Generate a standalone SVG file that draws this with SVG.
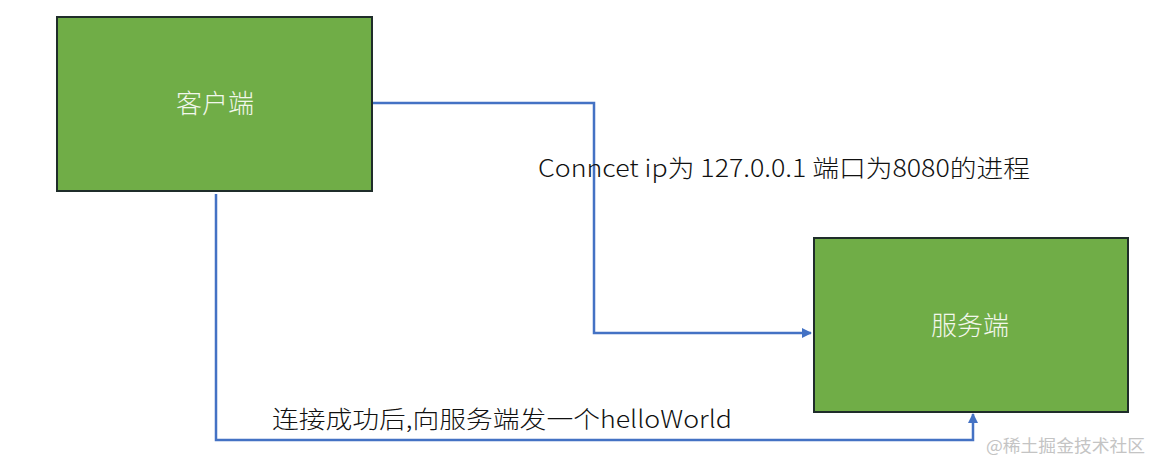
<svg xmlns="http://www.w3.org/2000/svg" width="1153" height="464" viewBox="0 0 1153 464">
<style>
.box{fill:#70AD47;stroke:#1F2D2A;stroke-width:2}
.nt{font-family:"Noto Sans CJK SC","Liberation Sans",sans-serif;font-size:26px;font-weight:300;fill:#F2F7EC;text-anchor:middle}
.lb{font-family:"Noto Sans CJK SC","Liberation Sans",sans-serif;font-size:24px;font-weight:300;fill:#111}
.cn{fill:none;stroke:#4472C4;stroke-width:2.5}
.wm{font-family:"Noto Sans CJK SC",sans-serif;font-size:17px;fill:#C4C4C4}
</style>
<defs>
<marker id="ah" viewBox="0 0 10 10" refX="9" refY="5" markerWidth="4" markerHeight="4" orient="auto" markerUnits="strokeWidth">
<path d="M0,0 L10,5 L0,10 z" fill="#4472C4"/>
</marker>
</defs>
<rect width="1153" height="464" fill="#fff"/>
<g id="connectors">
<polyline class="cn" points="373,103 594,103 594,333 811,333" marker-end="url(#ah)"/>
<polyline class="cn" points="216,194 216,440 973,440 973,414" marker-end="url(#ah)"/>
<text class="lb" x="538" y="177" textLength="492" lengthAdjust="spacingAndGlyphs">Conncet ip为 127.0.0.1 端口为8080的进程</text>
<text class="lb" x="272" y="428" textLength="460" lengthAdjust="spacingAndGlyphs">连接成功后,向服务端发一个helloWorld</text>
</g>
<g id="client">
<rect class="box" x="57" y="17" width="315" height="174"/>
<text class="nt" x="215" y="113">客户端</text>
</g>
<g id="server">
<rect class="box" x="814" y="238" width="314" height="174"/>
<text class="nt" x="970" y="335">服务端</text>
</g>
<text class="wm" x="986" y="452" textLength="159" lengthAdjust="spacingAndGlyphs">@稀土掘金技术社区</text>
</svg>
